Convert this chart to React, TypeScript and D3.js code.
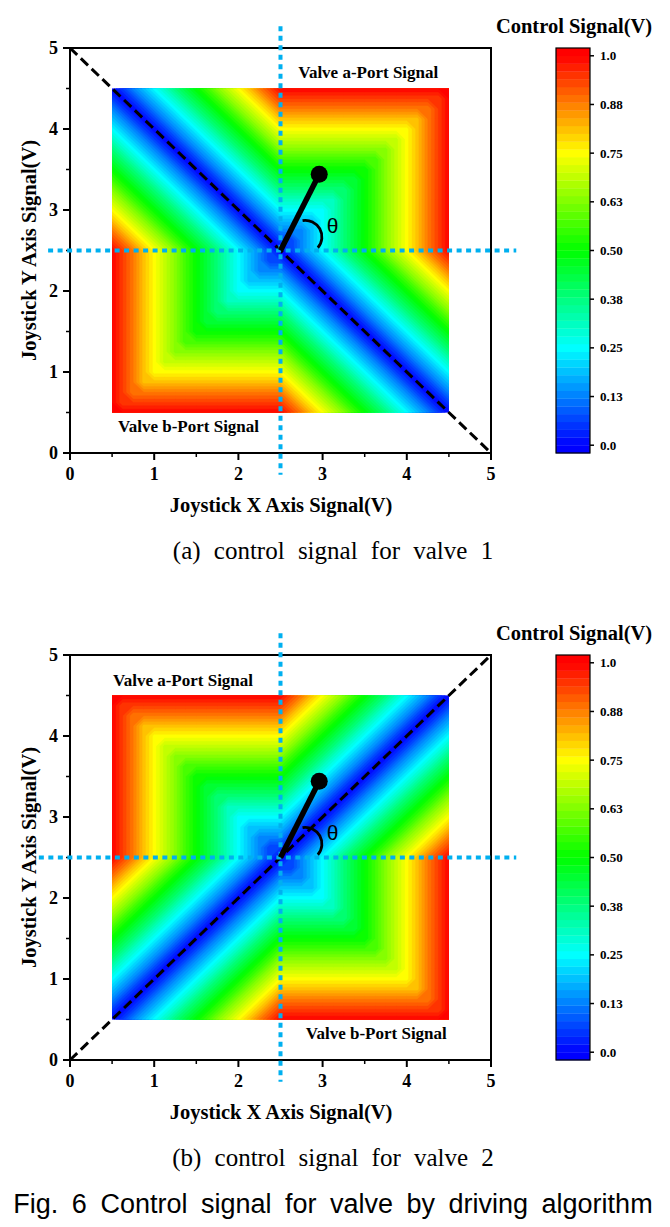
import React from "react";
import * as d3 from "d3";

// ---- data (values in V; grid step 0.125 V) ----
const GRID_X = [0.5, 0.625, 0.75, 0.875, 1, 1.125, 1.25, 1.375, 1.5, 1.625, 1.75, 1.875, 2, 2.125, 2.25, 2.375, 2.5, 2.625, 2.75, 2.875, 3, 3.125, 3.25, 3.375, 3.5, 3.625, 3.75, 3.875, 4, 4.125, 4.25, 4.375, 4.5];
const GRID_Y = [4.5, 4.375, 4.25, 4.125, 4, 3.875, 3.75, 3.625, 3.5, 3.375, 3.25, 3.125, 3, 2.875, 2.75, 2.625, 2.5, 2.375, 2.25, 2.125, 2, 1.875, 1.75, 1.625, 1.5, 1.375, 1.25, 1.125, 1, 0.875, 0.75, 0.625, 0.5];

// rows top (y=4.5) to bottom (y=0.5), columns x=0.5 .. 4.5
const VALVE1_SIGNAL = [
  [0, 0.06, 0.13, 0.19, 0.25, 0.31, 0.38, 0.44, 0.5, 0.56, 0.63, 0.69, 0.75, 0.81, 0.88, 0.94, 1, 1, 1, 1, 1, 1, 1, 1, 1, 1, 1, 1, 1, 1, 1, 1, 1],
  [0.06, 0, 0.06, 0.13, 0.19, 0.25, 0.31, 0.38, 0.44, 0.5, 0.56, 0.63, 0.69, 0.75, 0.81, 0.88, 0.94, 0.94, 0.94, 0.94, 0.94, 0.94, 0.94, 0.94, 0.94, 0.94, 0.94, 0.94, 0.94, 0.94, 0.94, 0.94, 1],
  [0.13, 0.06, 0, 0.06, 0.13, 0.19, 0.25, 0.31, 0.38, 0.44, 0.5, 0.56, 0.63, 0.69, 0.75, 0.81, 0.88, 0.88, 0.88, 0.88, 0.88, 0.88, 0.88, 0.88, 0.88, 0.88, 0.88, 0.88, 0.88, 0.88, 0.88, 0.94, 1],
  [0.19, 0.13, 0.06, 0, 0.06, 0.13, 0.19, 0.25, 0.31, 0.38, 0.44, 0.5, 0.56, 0.63, 0.69, 0.75, 0.81, 0.81, 0.81, 0.81, 0.81, 0.81, 0.81, 0.81, 0.81, 0.81, 0.81, 0.81, 0.81, 0.81, 0.88, 0.94, 1],
  [0.25, 0.19, 0.13, 0.06, 0, 0.06, 0.13, 0.19, 0.25, 0.31, 0.38, 0.44, 0.5, 0.56, 0.63, 0.69, 0.75, 0.75, 0.75, 0.75, 0.75, 0.75, 0.75, 0.75, 0.75, 0.75, 0.75, 0.75, 0.75, 0.81, 0.88, 0.94, 1],
  [0.31, 0.25, 0.19, 0.13, 0.06, 0, 0.06, 0.13, 0.19, 0.25, 0.31, 0.38, 0.44, 0.5, 0.56, 0.63, 0.69, 0.69, 0.69, 0.69, 0.69, 0.69, 0.69, 0.69, 0.69, 0.69, 0.69, 0.69, 0.75, 0.81, 0.88, 0.94, 1],
  [0.38, 0.31, 0.25, 0.19, 0.13, 0.06, 0, 0.06, 0.13, 0.19, 0.25, 0.31, 0.38, 0.44, 0.5, 0.56, 0.63, 0.63, 0.63, 0.63, 0.63, 0.63, 0.63, 0.63, 0.63, 0.63, 0.63, 0.69, 0.75, 0.81, 0.88, 0.94, 1],
  [0.44, 0.38, 0.31, 0.25, 0.19, 0.13, 0.06, 0, 0.06, 0.13, 0.19, 0.25, 0.31, 0.38, 0.44, 0.5, 0.56, 0.56, 0.56, 0.56, 0.56, 0.56, 0.56, 0.56, 0.56, 0.56, 0.63, 0.69, 0.75, 0.81, 0.88, 0.94, 1],
  [0.5, 0.44, 0.38, 0.31, 0.25, 0.19, 0.13, 0.06, 0, 0.06, 0.13, 0.19, 0.25, 0.31, 0.38, 0.44, 0.5, 0.5, 0.5, 0.5, 0.5, 0.5, 0.5, 0.5, 0.5, 0.56, 0.63, 0.69, 0.75, 0.81, 0.88, 0.94, 1],
  [0.56, 0.5, 0.44, 0.38, 0.31, 0.25, 0.19, 0.13, 0.06, 0, 0.06, 0.13, 0.19, 0.25, 0.31, 0.38, 0.44, 0.44, 0.44, 0.44, 0.44, 0.44, 0.44, 0.44, 0.5, 0.56, 0.63, 0.69, 0.75, 0.81, 0.88, 0.94, 1],
  [0.63, 0.56, 0.5, 0.44, 0.38, 0.31, 0.25, 0.19, 0.13, 0.06, 0, 0.06, 0.13, 0.19, 0.25, 0.31, 0.38, 0.38, 0.38, 0.38, 0.38, 0.38, 0.38, 0.44, 0.5, 0.56, 0.63, 0.69, 0.75, 0.81, 0.88, 0.94, 1],
  [0.69, 0.63, 0.56, 0.5, 0.44, 0.38, 0.31, 0.25, 0.19, 0.13, 0.06, 0, 0.06, 0.13, 0.19, 0.25, 0.31, 0.31, 0.31, 0.31, 0.31, 0.31, 0.38, 0.44, 0.5, 0.56, 0.63, 0.69, 0.75, 0.81, 0.88, 0.94, 1],
  [0.75, 0.69, 0.63, 0.56, 0.5, 0.44, 0.38, 0.31, 0.25, 0.19, 0.13, 0.06, 0, 0.06, 0.13, 0.19, 0.25, 0.25, 0.25, 0.25, 0.25, 0.31, 0.38, 0.44, 0.5, 0.56, 0.63, 0.69, 0.75, 0.81, 0.88, 0.94, 1],
  [0.81, 0.75, 0.69, 0.63, 0.56, 0.5, 0.44, 0.38, 0.31, 0.25, 0.19, 0.13, 0.06, 0, 0.06, 0.13, 0.19, 0.19, 0.19, 0.19, 0.25, 0.31, 0.38, 0.44, 0.5, 0.56, 0.63, 0.69, 0.75, 0.81, 0.88, 0.94, 1],
  [0.88, 0.81, 0.75, 0.69, 0.63, 0.56, 0.5, 0.44, 0.38, 0.31, 0.25, 0.19, 0.13, 0.06, 0, 0.06, 0.13, 0.13, 0.13, 0.19, 0.25, 0.31, 0.38, 0.44, 0.5, 0.56, 0.63, 0.69, 0.75, 0.81, 0.88, 0.94, 1],
  [0.94, 0.88, 0.81, 0.75, 0.69, 0.63, 0.56, 0.5, 0.44, 0.38, 0.31, 0.25, 0.19, 0.13, 0.06, 0, 0.06, 0.06, 0.13, 0.19, 0.25, 0.31, 0.38, 0.44, 0.5, 0.56, 0.63, 0.69, 0.75, 0.81, 0.88, 0.94, 1],
  [1, 0.94, 0.88, 0.81, 0.75, 0.69, 0.63, 0.56, 0.5, 0.44, 0.38, 0.31, 0.25, 0.19, 0.13, 0.06, 0, 0.06, 0.13, 0.19, 0.25, 0.31, 0.38, 0.44, 0.5, 0.56, 0.63, 0.69, 0.75, 0.81, 0.88, 0.94, 1],
  [1, 0.94, 0.88, 0.81, 0.75, 0.69, 0.63, 0.56, 0.5, 0.44, 0.38, 0.31, 0.25, 0.19, 0.13, 0.06, 0.06, 0, 0.06, 0.13, 0.19, 0.25, 0.31, 0.38, 0.44, 0.5, 0.56, 0.63, 0.69, 0.75, 0.81, 0.88, 0.94],
  [1, 0.94, 0.88, 0.81, 0.75, 0.69, 0.63, 0.56, 0.5, 0.44, 0.38, 0.31, 0.25, 0.19, 0.13, 0.13, 0.13, 0.06, 0, 0.06, 0.13, 0.19, 0.25, 0.31, 0.38, 0.44, 0.5, 0.56, 0.63, 0.69, 0.75, 0.81, 0.88],
  [1, 0.94, 0.88, 0.81, 0.75, 0.69, 0.63, 0.56, 0.5, 0.44, 0.38, 0.31, 0.25, 0.19, 0.19, 0.19, 0.19, 0.13, 0.06, 0, 0.06, 0.13, 0.19, 0.25, 0.31, 0.38, 0.44, 0.5, 0.56, 0.63, 0.69, 0.75, 0.81],
  [1, 0.94, 0.88, 0.81, 0.75, 0.69, 0.63, 0.56, 0.5, 0.44, 0.38, 0.31, 0.25, 0.25, 0.25, 0.25, 0.25, 0.19, 0.13, 0.06, 0, 0.06, 0.13, 0.19, 0.25, 0.31, 0.38, 0.44, 0.5, 0.56, 0.63, 0.69, 0.75],
  [1, 0.94, 0.88, 0.81, 0.75, 0.69, 0.63, 0.56, 0.5, 0.44, 0.38, 0.31, 0.31, 0.31, 0.31, 0.31, 0.31, 0.25, 0.19, 0.13, 0.06, 0, 0.06, 0.13, 0.19, 0.25, 0.31, 0.38, 0.44, 0.5, 0.56, 0.63, 0.69],
  [1, 0.94, 0.88, 0.81, 0.75, 0.69, 0.63, 0.56, 0.5, 0.44, 0.38, 0.38, 0.38, 0.38, 0.38, 0.38, 0.38, 0.31, 0.25, 0.19, 0.13, 0.06, 0, 0.06, 0.13, 0.19, 0.25, 0.31, 0.38, 0.44, 0.5, 0.56, 0.63],
  [1, 0.94, 0.88, 0.81, 0.75, 0.69, 0.63, 0.56, 0.5, 0.44, 0.44, 0.44, 0.44, 0.44, 0.44, 0.44, 0.44, 0.38, 0.31, 0.25, 0.19, 0.13, 0.06, 0, 0.06, 0.13, 0.19, 0.25, 0.31, 0.38, 0.44, 0.5, 0.56],
  [1, 0.94, 0.88, 0.81, 0.75, 0.69, 0.63, 0.56, 0.5, 0.5, 0.5, 0.5, 0.5, 0.5, 0.5, 0.5, 0.5, 0.44, 0.38, 0.31, 0.25, 0.19, 0.13, 0.06, 0, 0.06, 0.13, 0.19, 0.25, 0.31, 0.38, 0.44, 0.5],
  [1, 0.94, 0.88, 0.81, 0.75, 0.69, 0.63, 0.56, 0.56, 0.56, 0.56, 0.56, 0.56, 0.56, 0.56, 0.56, 0.56, 0.5, 0.44, 0.38, 0.31, 0.25, 0.19, 0.13, 0.06, 0, 0.06, 0.13, 0.19, 0.25, 0.31, 0.38, 0.44],
  [1, 0.94, 0.88, 0.81, 0.75, 0.69, 0.63, 0.63, 0.63, 0.63, 0.63, 0.63, 0.63, 0.63, 0.63, 0.63, 0.63, 0.56, 0.5, 0.44, 0.38, 0.31, 0.25, 0.19, 0.13, 0.06, 0, 0.06, 0.13, 0.19, 0.25, 0.31, 0.38],
  [1, 0.94, 0.88, 0.81, 0.75, 0.69, 0.69, 0.69, 0.69, 0.69, 0.69, 0.69, 0.69, 0.69, 0.69, 0.69, 0.69, 0.63, 0.56, 0.5, 0.44, 0.38, 0.31, 0.25, 0.19, 0.13, 0.06, 0, 0.06, 0.13, 0.19, 0.25, 0.31],
  [1, 0.94, 0.88, 0.81, 0.75, 0.75, 0.75, 0.75, 0.75, 0.75, 0.75, 0.75, 0.75, 0.75, 0.75, 0.75, 0.75, 0.69, 0.63, 0.56, 0.5, 0.44, 0.38, 0.31, 0.25, 0.19, 0.13, 0.06, 0, 0.06, 0.13, 0.19, 0.25],
  [1, 0.94, 0.88, 0.81, 0.81, 0.81, 0.81, 0.81, 0.81, 0.81, 0.81, 0.81, 0.81, 0.81, 0.81, 0.81, 0.81, 0.75, 0.69, 0.63, 0.56, 0.5, 0.44, 0.38, 0.31, 0.25, 0.19, 0.13, 0.06, 0, 0.06, 0.13, 0.19],
  [1, 0.94, 0.88, 0.88, 0.88, 0.88, 0.88, 0.88, 0.88, 0.88, 0.88, 0.88, 0.88, 0.88, 0.88, 0.88, 0.88, 0.81, 0.75, 0.69, 0.63, 0.56, 0.5, 0.44, 0.38, 0.31, 0.25, 0.19, 0.13, 0.06, 0, 0.06, 0.13],
  [1, 0.94, 0.94, 0.94, 0.94, 0.94, 0.94, 0.94, 0.94, 0.94, 0.94, 0.94, 0.94, 0.94, 0.94, 0.94, 0.94, 0.88, 0.81, 0.75, 0.69, 0.63, 0.56, 0.5, 0.44, 0.38, 0.31, 0.25, 0.19, 0.13, 0.06, 0, 0.06],
  [1, 1, 1, 1, 1, 1, 1, 1, 1, 1, 1, 1, 1, 1, 1, 1, 1, 0.94, 0.88, 0.81, 0.75, 0.69, 0.63, 0.56, 0.5, 0.44, 0.38, 0.31, 0.25, 0.19, 0.13, 0.06, 0],
];

const VALVE2_SIGNAL = [
  [1, 1, 1, 1, 1, 1, 1, 1, 1, 1, 1, 1, 1, 1, 1, 1, 1, 0.94, 0.88, 0.81, 0.75, 0.69, 0.63, 0.56, 0.5, 0.44, 0.38, 0.31, 0.25, 0.19, 0.13, 0.06, 0],
  [1, 0.94, 0.94, 0.94, 0.94, 0.94, 0.94, 0.94, 0.94, 0.94, 0.94, 0.94, 0.94, 0.94, 0.94, 0.94, 0.94, 0.88, 0.81, 0.75, 0.69, 0.63, 0.56, 0.5, 0.44, 0.38, 0.31, 0.25, 0.19, 0.13, 0.06, 0, 0.06],
  [1, 0.94, 0.88, 0.88, 0.88, 0.88, 0.88, 0.88, 0.88, 0.88, 0.88, 0.88, 0.88, 0.88, 0.88, 0.88, 0.88, 0.81, 0.75, 0.69, 0.63, 0.56, 0.5, 0.44, 0.38, 0.31, 0.25, 0.19, 0.13, 0.06, 0, 0.06, 0.13],
  [1, 0.94, 0.88, 0.81, 0.81, 0.81, 0.81, 0.81, 0.81, 0.81, 0.81, 0.81, 0.81, 0.81, 0.81, 0.81, 0.81, 0.75, 0.69, 0.63, 0.56, 0.5, 0.44, 0.38, 0.31, 0.25, 0.19, 0.13, 0.06, 0, 0.06, 0.13, 0.19],
  [1, 0.94, 0.88, 0.81, 0.75, 0.75, 0.75, 0.75, 0.75, 0.75, 0.75, 0.75, 0.75, 0.75, 0.75, 0.75, 0.75, 0.69, 0.63, 0.56, 0.5, 0.44, 0.38, 0.31, 0.25, 0.19, 0.13, 0.06, 0, 0.06, 0.13, 0.19, 0.25],
  [1, 0.94, 0.88, 0.81, 0.75, 0.69, 0.69, 0.69, 0.69, 0.69, 0.69, 0.69, 0.69, 0.69, 0.69, 0.69, 0.69, 0.63, 0.56, 0.5, 0.44, 0.38, 0.31, 0.25, 0.19, 0.13, 0.06, 0, 0.06, 0.13, 0.19, 0.25, 0.31],
  [1, 0.94, 0.88, 0.81, 0.75, 0.69, 0.63, 0.63, 0.63, 0.63, 0.63, 0.63, 0.63, 0.63, 0.63, 0.63, 0.63, 0.56, 0.5, 0.44, 0.38, 0.31, 0.25, 0.19, 0.13, 0.06, 0, 0.06, 0.13, 0.19, 0.25, 0.31, 0.38],
  [1, 0.94, 0.88, 0.81, 0.75, 0.69, 0.63, 0.56, 0.56, 0.56, 0.56, 0.56, 0.56, 0.56, 0.56, 0.56, 0.56, 0.5, 0.44, 0.38, 0.31, 0.25, 0.19, 0.13, 0.06, 0, 0.06, 0.13, 0.19, 0.25, 0.31, 0.38, 0.44],
  [1, 0.94, 0.88, 0.81, 0.75, 0.69, 0.63, 0.56, 0.5, 0.5, 0.5, 0.5, 0.5, 0.5, 0.5, 0.5, 0.5, 0.44, 0.38, 0.31, 0.25, 0.19, 0.13, 0.06, 0, 0.06, 0.13, 0.19, 0.25, 0.31, 0.38, 0.44, 0.5],
  [1, 0.94, 0.88, 0.81, 0.75, 0.69, 0.63, 0.56, 0.5, 0.44, 0.44, 0.44, 0.44, 0.44, 0.44, 0.44, 0.44, 0.38, 0.31, 0.25, 0.19, 0.13, 0.06, 0, 0.06, 0.13, 0.19, 0.25, 0.31, 0.38, 0.44, 0.5, 0.56],
  [1, 0.94, 0.88, 0.81, 0.75, 0.69, 0.63, 0.56, 0.5, 0.44, 0.38, 0.38, 0.38, 0.38, 0.38, 0.38, 0.38, 0.31, 0.25, 0.19, 0.13, 0.06, 0, 0.06, 0.13, 0.19, 0.25, 0.31, 0.38, 0.44, 0.5, 0.56, 0.63],
  [1, 0.94, 0.88, 0.81, 0.75, 0.69, 0.63, 0.56, 0.5, 0.44, 0.38, 0.31, 0.31, 0.31, 0.31, 0.31, 0.31, 0.25, 0.19, 0.13, 0.06, 0, 0.06, 0.13, 0.19, 0.25, 0.31, 0.38, 0.44, 0.5, 0.56, 0.63, 0.69],
  [1, 0.94, 0.88, 0.81, 0.75, 0.69, 0.63, 0.56, 0.5, 0.44, 0.38, 0.31, 0.25, 0.25, 0.25, 0.25, 0.25, 0.19, 0.13, 0.06, 0, 0.06, 0.13, 0.19, 0.25, 0.31, 0.38, 0.44, 0.5, 0.56, 0.63, 0.69, 0.75],
  [1, 0.94, 0.88, 0.81, 0.75, 0.69, 0.63, 0.56, 0.5, 0.44, 0.38, 0.31, 0.25, 0.19, 0.19, 0.19, 0.19, 0.13, 0.06, 0, 0.06, 0.13, 0.19, 0.25, 0.31, 0.38, 0.44, 0.5, 0.56, 0.63, 0.69, 0.75, 0.81],
  [1, 0.94, 0.88, 0.81, 0.75, 0.69, 0.63, 0.56, 0.5, 0.44, 0.38, 0.31, 0.25, 0.19, 0.13, 0.13, 0.13, 0.06, 0, 0.06, 0.13, 0.19, 0.25, 0.31, 0.38, 0.44, 0.5, 0.56, 0.63, 0.69, 0.75, 0.81, 0.88],
  [1, 0.94, 0.88, 0.81, 0.75, 0.69, 0.63, 0.56, 0.5, 0.44, 0.38, 0.31, 0.25, 0.19, 0.13, 0.06, 0.06, 0, 0.06, 0.13, 0.19, 0.25, 0.31, 0.38, 0.44, 0.5, 0.56, 0.63, 0.69, 0.75, 0.81, 0.88, 0.94],
  [1, 0.94, 0.88, 0.81, 0.75, 0.69, 0.63, 0.56, 0.5, 0.44, 0.38, 0.31, 0.25, 0.19, 0.13, 0.06, 0, 0.06, 0.13, 0.19, 0.25, 0.31, 0.38, 0.44, 0.5, 0.56, 0.63, 0.69, 0.75, 0.81, 0.88, 0.94, 1],
  [0.94, 0.88, 0.81, 0.75, 0.69, 0.63, 0.56, 0.5, 0.44, 0.38, 0.31, 0.25, 0.19, 0.13, 0.06, 0, 0.06, 0.06, 0.13, 0.19, 0.25, 0.31, 0.38, 0.44, 0.5, 0.56, 0.63, 0.69, 0.75, 0.81, 0.88, 0.94, 1],
  [0.88, 0.81, 0.75, 0.69, 0.63, 0.56, 0.5, 0.44, 0.38, 0.31, 0.25, 0.19, 0.13, 0.06, 0, 0.06, 0.13, 0.13, 0.13, 0.19, 0.25, 0.31, 0.38, 0.44, 0.5, 0.56, 0.63, 0.69, 0.75, 0.81, 0.88, 0.94, 1],
  [0.81, 0.75, 0.69, 0.63, 0.56, 0.5, 0.44, 0.38, 0.31, 0.25, 0.19, 0.13, 0.06, 0, 0.06, 0.13, 0.19, 0.19, 0.19, 0.19, 0.25, 0.31, 0.38, 0.44, 0.5, 0.56, 0.63, 0.69, 0.75, 0.81, 0.88, 0.94, 1],
  [0.75, 0.69, 0.63, 0.56, 0.5, 0.44, 0.38, 0.31, 0.25, 0.19, 0.13, 0.06, 0, 0.06, 0.13, 0.19, 0.25, 0.25, 0.25, 0.25, 0.25, 0.31, 0.38, 0.44, 0.5, 0.56, 0.63, 0.69, 0.75, 0.81, 0.88, 0.94, 1],
  [0.69, 0.63, 0.56, 0.5, 0.44, 0.38, 0.31, 0.25, 0.19, 0.13, 0.06, 0, 0.06, 0.13, 0.19, 0.25, 0.31, 0.31, 0.31, 0.31, 0.31, 0.31, 0.38, 0.44, 0.5, 0.56, 0.63, 0.69, 0.75, 0.81, 0.88, 0.94, 1],
  [0.63, 0.56, 0.5, 0.44, 0.38, 0.31, 0.25, 0.19, 0.13, 0.06, 0, 0.06, 0.13, 0.19, 0.25, 0.31, 0.38, 0.38, 0.38, 0.38, 0.38, 0.38, 0.38, 0.44, 0.5, 0.56, 0.63, 0.69, 0.75, 0.81, 0.88, 0.94, 1],
  [0.56, 0.5, 0.44, 0.38, 0.31, 0.25, 0.19, 0.13, 0.06, 0, 0.06, 0.13, 0.19, 0.25, 0.31, 0.38, 0.44, 0.44, 0.44, 0.44, 0.44, 0.44, 0.44, 0.44, 0.5, 0.56, 0.63, 0.69, 0.75, 0.81, 0.88, 0.94, 1],
  [0.5, 0.44, 0.38, 0.31, 0.25, 0.19, 0.13, 0.06, 0, 0.06, 0.13, 0.19, 0.25, 0.31, 0.38, 0.44, 0.5, 0.5, 0.5, 0.5, 0.5, 0.5, 0.5, 0.5, 0.5, 0.56, 0.63, 0.69, 0.75, 0.81, 0.88, 0.94, 1],
  [0.44, 0.38, 0.31, 0.25, 0.19, 0.13, 0.06, 0, 0.06, 0.13, 0.19, 0.25, 0.31, 0.38, 0.44, 0.5, 0.56, 0.56, 0.56, 0.56, 0.56, 0.56, 0.56, 0.56, 0.56, 0.56, 0.63, 0.69, 0.75, 0.81, 0.88, 0.94, 1],
  [0.38, 0.31, 0.25, 0.19, 0.13, 0.06, 0, 0.06, 0.13, 0.19, 0.25, 0.31, 0.38, 0.44, 0.5, 0.56, 0.63, 0.63, 0.63, 0.63, 0.63, 0.63, 0.63, 0.63, 0.63, 0.63, 0.63, 0.69, 0.75, 0.81, 0.88, 0.94, 1],
  [0.31, 0.25, 0.19, 0.13, 0.06, 0, 0.06, 0.13, 0.19, 0.25, 0.31, 0.38, 0.44, 0.5, 0.56, 0.63, 0.69, 0.69, 0.69, 0.69, 0.69, 0.69, 0.69, 0.69, 0.69, 0.69, 0.69, 0.69, 0.75, 0.81, 0.88, 0.94, 1],
  [0.25, 0.19, 0.13, 0.06, 0, 0.06, 0.13, 0.19, 0.25, 0.31, 0.38, 0.44, 0.5, 0.56, 0.63, 0.69, 0.75, 0.75, 0.75, 0.75, 0.75, 0.75, 0.75, 0.75, 0.75, 0.75, 0.75, 0.75, 0.75, 0.81, 0.88, 0.94, 1],
  [0.19, 0.13, 0.06, 0, 0.06, 0.13, 0.19, 0.25, 0.31, 0.38, 0.44, 0.5, 0.56, 0.63, 0.69, 0.75, 0.81, 0.81, 0.81, 0.81, 0.81, 0.81, 0.81, 0.81, 0.81, 0.81, 0.81, 0.81, 0.81, 0.81, 0.88, 0.94, 1],
  [0.13, 0.06, 0, 0.06, 0.13, 0.19, 0.25, 0.31, 0.38, 0.44, 0.5, 0.56, 0.63, 0.69, 0.75, 0.81, 0.88, 0.88, 0.88, 0.88, 0.88, 0.88, 0.88, 0.88, 0.88, 0.88, 0.88, 0.88, 0.88, 0.88, 0.88, 0.94, 1],
  [0.06, 0, 0.06, 0.13, 0.19, 0.25, 0.31, 0.38, 0.44, 0.5, 0.56, 0.63, 0.69, 0.75, 0.81, 0.88, 0.94, 0.94, 0.94, 0.94, 0.94, 0.94, 0.94, 0.94, 0.94, 0.94, 0.94, 0.94, 0.94, 0.94, 0.94, 0.94, 1],
  [0, 0.06, 0.13, 0.19, 0.25, 0.31, 0.38, 0.44, 0.5, 0.56, 0.63, 0.69, 0.75, 0.81, 0.88, 0.94, 1, 1, 1, 1, 1, 1, 1, 1, 1, 1, 1, 1, 1, 1, 1, 1, 1],
];

const AXIS_TICKS = [0, 1, 2, 3, 4, 5];
const MINOR_TICKS = [0.5, 1.5, 2.5, 3.5, 4.5];
const CB_TICKS = [0, 0.125, 0.25, 0.375, 0.5, 0.625, 0.75, 0.875, 1];
const CB_LABELS = ["0.0", "0.13", "0.25", "0.38", "0.50", "0.63", "0.75", "0.88", "1.0"];
const CB_DOMAIN = [-0.02, 1.02];
const LEVEL_COUNT = 52; // bands of 0.02 V from -0.02 to 1.02
const RAINBOW_STOPS = [0, 0.25, 0.5, 0.75, 1];
const RAINBOW_COLORS = ["#0000ff", "#00ffff", "#00ff00", "#ffff00", "#ff0000"];

const CENTER = [2.5, 2.5];
const JOY_KNOB = [2.96, 3.44];
const DIAG_1 = [[0, 5], [5, 0]];
const DIAG_2 = [[0, 0], [5, 5]];

const SERIF = "'Liberation Serif', 'Times New Roman', serif";
const SANS = "'Liberation Sans', Arial, sans-serif";
const DOT_BLUE = "#00b0f0";

const color = d3
  .scaleLinear<string>()
  .domain(RAINBOW_STOPS)
  .range(RAINBOW_COLORS)
  .interpolate(d3.interpolateRgb)
  .clamp(true);

const levelEdges = d3.range(LEVEL_COUNT + 1).map((k) => Math.round((CB_DOMAIN[0] + k / 50) * 1000) / 1000);
const thresholds = levelEdges.slice(1, LEVEL_COUNT);

type PanelProps = {
  top: number;
  grid: number[][];
  diag: number[][];
  idx: number;
  hLineX0: number;
  labelA: number[];
  labelB: number[];
  caption: string;
};

function Panel({ top, grid, diag, idx, hLineX0, labelA, labelB, caption }: PanelProps) {
  const x = d3.scaleLinear().domain([0, 5]).range([70, 491]);
  const y = d3.scaleLinear().domain([0, 5]).range([top + 405, top]);
  const gx = d3.scaleLinear().domain([0.5, GRID_X.length - 0.5]).range([GRID_X[0], GRID_X[GRID_X.length - 1]]);
  const gy = d3.scaleLinear().domain([0.5, GRID_Y.length - 0.5]).range([GRID_Y[0], GRID_Y[GRID_Y.length - 1]]);
  const proj = d3.geoTransform({
    point(px: number, py: number) {
      (this as any).stream.point(x(gx(px)), y(gy(py)));
    },
  });
  const path = d3.geoPath(proj as any);
  const contours = d3
    .contours()
    .size([GRID_X.length, GRID_Y.length])
    .thresholds(thresholds)(grid.flat());

  const cb = d3.scaleLinear().domain(CB_DOMAIN).range([top + 405, top]);
  const clipId = `heat-clip-${idx}`;
  const hx0 = x(0.5), hx1 = x(4.5), hy0 = y(4.5), hy1 = y(0.5);

  const arcPath = d3.path();
  const ax = x(CENTER[0]) + 24.8, ay = y(CENTER[1]) - 13.6;
  arcPath.arc(ax, ay, 16.6, (-99.5 * Math.PI) / 180, (41 * Math.PI) / 180);

  return (
    <g>
      <defs>
        <clipPath id={clipId}>
          <rect x={hx0} y={hy0} width={hx1 - hx0} height={hy1 - hy0} />
        </clipPath>
      </defs>
      <g clipPath={`url(#${clipId})`}>
        <rect x={hx0} y={hy0} width={hx1 - hx0} height={hy1 - hy0} fill={color(-0.01)} />
        {contours.map((c, i) => (
          <path key={i} d={path(c as any) || ""} fill={color(c.value + 0.01)} stroke={color(c.value + 0.01)} strokeWidth={0.4} />
        ))}
      </g>

      {/* frame */}
      <rect x={x(0)} y={y(5)} width={x(5) - x(0)} height={y(0) - y(5)} fill="none" stroke="#000" strokeWidth={2} />

      {/* diagonal */}
      <line x1={x(diag[0][0])} y1={y(diag[0][1])} x2={x(diag[1][0])} y2={y(diag[1][1])} stroke="#000" strokeWidth={3} strokeDasharray="10,5" />

      {/* ticks */}
      {AXIS_TICKS.map((t) => (
        <g key={"x" + t}>
          <line x1={x(t)} x2={x(t)} y1={y(0)} y2={y(0) + 7} stroke="#000" strokeWidth={2} />
          <text x={x(t)} y={y(0) + 27} textAnchor="middle" fontFamily={SERIF} fontWeight="bold" fontSize={18}>{t}</text>
          <line y1={y(t)} y2={y(t)} x1={x(0)} x2={x(0) - 7} stroke="#000" strokeWidth={2} />
          <text x={x(0) - 12} y={y(t)} dy="0.35em" textAnchor="end" fontFamily={SERIF} fontWeight="bold" fontSize={18}>{t}</text>
        </g>
      ))}
      {MINOR_TICKS.map((t) => (
        <g key={"m" + t}>
          <line x1={x(t)} x2={x(t)} y1={y(0)} y2={y(0) + 4} stroke="#000" strokeWidth={1.5} />
          <line y1={y(t)} y2={y(t)} x1={x(0)} x2={x(0) - 4} stroke="#000" strokeWidth={1.5} />
        </g>
      ))}

      {/* axis titles */}
      <text x={281} y={y(0) + 59} textAnchor="middle" fontFamily={SERIF} fontWeight="bold" fontSize={20.5}>Joystick X Axis Signal(V)</text>
      <text transform={`translate(36,${(y(0) + y(5)) / 2}) rotate(-90)`} textAnchor="middle" fontFamily={SERIF} fontWeight="bold" fontSize={20.5}>Joystick Y Axis Signal(V)</text>

      {/* blue dotted crosshair */}
      <line x1={x(CENTER[0])} x2={x(CENTER[0])} y1={y(5.27)} y2={y(-0.27)} stroke={DOT_BLUE} strokeWidth={4} strokeDasharray="5,4.5" />
      <line y1={y(CENTER[1])} y2={y(CENTER[1])} x1={x(hLineX0)} x2={x(5.3)} stroke={DOT_BLUE} strokeWidth={4} strokeDasharray="5,4.5" />

      {/* joystick */}
      <line x1={x(CENTER[0])} y1={y(CENTER[1])} x2={x(JOY_KNOB[0])} y2={y(JOY_KNOB[1])} stroke="#000" strokeWidth={5.5} />
      <circle cx={x(JOY_KNOB[0])} cy={y(JOY_KNOB[1])} r={8.5} fill="#000" />
      <path d={arcPath.toString()} fill="none" stroke="#000" strokeWidth={2.8} />
      <text x={x(CENTER[0]) + 52} y={y(CENTER[1]) - 25} dy="0.35em" textAnchor="middle" fontFamily={SANS} fontSize={21}>θ</text>

      {/* port labels */}
      <text x={x(labelA[0])} y={y(labelA[1])} fontFamily={SERIF} fontWeight="bold" fontSize={17}>Valve a-Port Signal</text>
      <text x={x(labelB[0])} y={y(labelB[1])} fontFamily={SERIF} fontWeight="bold" fontSize={17}>Valve b-Port Signal</text>

      {/* colorbar */}
      <text x={574} y={top - 15} textAnchor="middle" fontFamily={SERIF} fontWeight="bold" fontSize={20.5}>Control Signal(V)</text>
      {d3.range(LEVEL_COUNT).map((k) => {
        const lo = levelEdges[k], hi = levelEdges[k + 1];
        return <rect key={k} x={556} y={cb(hi)} width={34} height={cb(lo) - cb(hi) + 0.3} fill={color((lo + hi) / 2)} />;
      })}
      <rect x={556} y={cb(CB_DOMAIN[1])} width={34} height={cb(CB_DOMAIN[0]) - cb(CB_DOMAIN[1])} fill="none" stroke="#000" strokeWidth={1.2} />
      {CB_TICKS.map((t, i) => (
        <g key={"cb" + t}>
          <line x1={590} x2={594} y1={cb(t)} y2={cb(t)} stroke="#000" strokeWidth={1.5} />
          <text x={600} y={cb(t)} dy="0.35em" fontFamily={SERIF} fontWeight="bold" fontSize={13}>{CB_LABELS[i]}</text>
        </g>
      ))}

      {/* caption */}
      <text x={333} y={y(0) + 106} textAnchor="middle" fontFamily={SERIF} fontSize={25} style={{ wordSpacing: "7px" }}>{caption}</text>
    </g>
  );
}

export default function App() {
  return (
    <svg width={670} height={1227} style={{ position: "absolute", left: 0, top: 0, background: "#fff" }}>
      <Panel top={48} grid={VALVE1_SIGNAL} diag={DIAG_1} idx={1} hLineX0={-0.26} labelA={[2.71, 4.63]} labelB={[0.57, 0.26]} caption="(a) control signal for valve 1" />
      <Panel top={655} grid={VALVE2_SIGNAL} diag={DIAG_2} idx={2} hLineX0={-0.37} labelA={[0.51, 4.62]} labelB={[2.8, 0.26]} caption="(b) control signal for valve 2" />
      <text x={333} y={1213} textAnchor="middle" fontFamily={SANS} fontSize={27} style={{ wordSpacing: "6px" }}>Fig. 6 Control signal for valve by driving algorithm</text>
    </svg>
  );
}
